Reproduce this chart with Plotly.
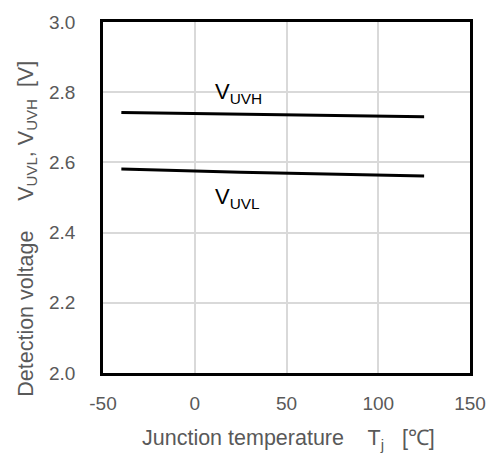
import plotly.graph_objects as go

temp = [-40, 25, 125]
v_uvh = [2.742, 2.738, 2.730]
v_uvl = [2.581, 2.572, 2.561]

x_ticks = [-50, 0, 50, 100, 150]
x_tick_text = ["-50", "0", "50", "100", "150"]
y_ticks = [2.0, 2.2, 2.4, 2.6, 2.8, 3.0]
y_tick_text = ["2.0", "2.2", "2.4", "2.6", "2.8", "3.0"]

FONT = "Liberation Sans"
GRAY = "#595959"

fig = go.Figure()
fig.add_trace(go.Scatter(x=temp, y=v_uvh, mode="lines", line=dict(color="black", width=3), showlegend=False))
fig.add_trace(go.Scatter(x=temp, y=v_uvl, mode="lines", line=dict(color="black", width=3), showlegend=False))

fig.add_annotation(x=10, y=2.797, xref="x", yref="y", xanchor="left", yanchor="middle",
                   text="V<sub>UVH</sub>", showarrow=False, font=dict(family=FONT, size=22, color="black"))
fig.add_annotation(x=10, y=2.50, xref="x", yref="y", xanchor="left", yanchor="middle",
                   text="V<sub>UVL</sub>", showarrow=False, font=dict(family=FONT, size=22, color="black"))

# axis titles
fig.add_annotation(x=-0.208, y=0.41, xref="paper", yref="paper", xanchor="center", yanchor="middle",
                   textangle=-90, showarrow=False,
                   text="Detection voltage &nbsp;&nbsp;&nbsp; V<sub>UVL</sub>, V<sub>UVH</sub> &nbsp;[V]",
                   font=dict(family=FONT, size=21.5, color=GRAY))
fig.add_annotation(x=0.505, y=-0.19, xref="paper", yref="paper", xanchor="center", yanchor="middle",
                   showarrow=False,
                   text="Junction temperature &nbsp;&nbsp; T<sub>j</sub> &nbsp;&nbsp;[℃]",
                   font=dict(family=FONT, size=21.5, color=GRAY))

fig.update_layout(
    width=498, height=454,
    margin=dict(l=103, r=19, t=18, b=81),
    paper_bgcolor="white", plot_bgcolor="white",
    font=dict(family=FONT, size=19, color=GRAY),
)
fig.update_xaxes(
    range=[-50, 150], tickvals=x_ticks, ticktext=x_tick_text, showgrid=True, gridcolor="#d9d9d9", gridwidth=1.5,
    showline=True, linecolor="black", linewidth=2.5, mirror=True, zeroline=False,
    ticks="", ticklabelstandoff=11, tickfont=dict(family=FONT, size=19, color=GRAY),
)
fig.update_yaxes(
    range=[2.0, 3.0], tickvals=y_ticks, ticktext=y_tick_text, showgrid=True, gridcolor="#d9d9d9", gridwidth=1.5,
    showline=True, linecolor="black", linewidth=2.5, mirror=True, zeroline=False,
    ticks="", ticklabelstandoff=21, tickfont=dict(family=FONT, size=19, color=GRAY),
)

fig.write_html("out.html")
